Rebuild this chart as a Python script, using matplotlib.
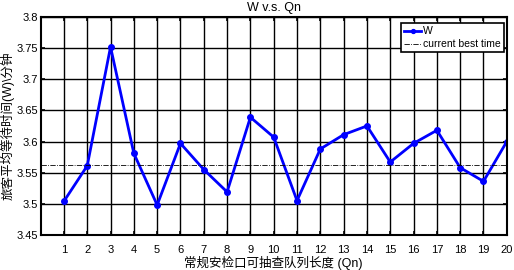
import numpy as np
import matplotlib
matplotlib.use("Agg")
import matplotlib.pyplot as plt

plt.rcParams['font.family'] = ['Liberation Sans', 'Noto Sans CJK SC', 'DejaVu Sans']

# data
qn = list(range(1, 21))
w = [3.504, 3.561, 3.752, 3.581, 3.498, 3.597, 3.555, 3.519, 3.639, 3.607,
     3.505, 3.588, 3.611, 3.625, 3.567, 3.597, 3.618, 3.558, 3.536, 3.600]
best_time = 3.562

fig = plt.figure(figsize=(5.14, 2.70), dpi=100)
ax = fig.add_axes([0.079, 0.130, 0.907, 0.807])

ax.plot(qn, w, '-o', color='blue', lw=2, ms=4, label='W')
ax.axhline(best_time, color='black', lw=0.6, ls='-.', label='current best time')

ax.set_xlim(0, 20)
ax.set_ylim(3.45, 3.8)
ax.set_xticks(range(1, 21))
ax.set_yticks([3.45, 3.5, 3.55, 3.6, 3.65, 3.7, 3.75, 3.8])
ax.set_yticklabels(['3.45', '3.5', '3.55', '3.6', '3.65', '3.7', '3.75', '3.8'])
ax.grid(True, color='black', lw=1, ls='-')
ax.tick_params(direction='in', top=True, right=True, labelsize=8, length=3, width=1.2)
ax.tick_params(axis='y', pad=2)
ax.tick_params(axis='x', pad=7)
for s in ax.spines.values():
    s.set_linewidth(1.5)

ax.set_title('W v.s. Qn', fontsize=9, pad=4)
ax.set_xlabel('常规安检口可抽查队列长度 (Qn)', fontsize=9, labelpad=1)
ax.set_ylabel('旅客平均等待时间(W)\\分钟', fontsize=9)
ax.yaxis.set_label_coords(-0.056, 0.5)

leg = ax.legend(loc='upper right', bbox_to_anchor=(0.994, 0.972), fontsize=7.5,
                fancybox=False, edgecolor='black', framealpha=1,
                handlelength=1.6, handletextpad=0.2, borderpad=0.3,
                labelspacing=0.3, borderaxespad=0, markerscale=0.7)
leg.get_frame().set_linewidth(1.2)

fig.savefig('out.png', dpi=100)
